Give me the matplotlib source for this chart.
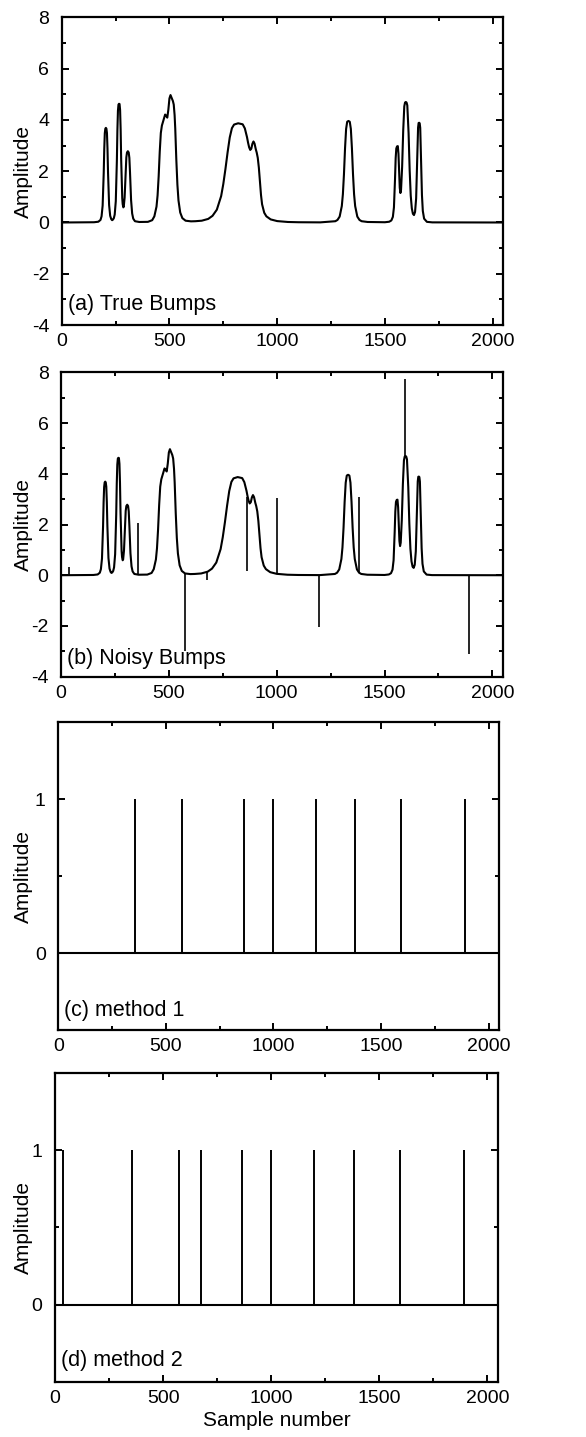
import matplotlib
matplotlib.use("Agg")
import matplotlib.pyplot as plt
from matplotlib.ticker import MultipleLocator

# Bumps signal, sample number vs amplitude
true_x = [0, 100, 150, 170, 180, 185, 190, 195, 197.5, 200, 202.5, 205, 207.5, 210, 212.5,
          215, 220, 225, 230, 234, 238, 242, 246, 251, 256, 258.5, 261, 263.5, 266, 268.5,
          271, 273.5, 276, 281, 283, 286, 288, 292, 297, 300, 303, 307, 311, 314, 317,
          322, 327, 332, 340, 360, 400, 420, 430, 440, 445, 450, 455, 460, 465, 471,
          476, 480, 485, 490, 495, 500, 505, 508, 512, 516, 520, 524, 527, 532, 537,
          542, 550, 560, 575, 600, 620, 650, 680, 700, 720, 740, 750, 760, 770, 780,
          790, 800, 819, 840, 850, 860, 865, 870, 875, 880, 885, 890, 895, 901, 905,
          910, 915, 920, 925, 930, 940, 950, 970, 1000, 1050, 1100, 1200, 1270, 1280, 1290,
          1300, 1305, 1310, 1315, 1320, 1325, 1331, 1337, 1342, 1347, 1352, 1357, 1362, 1372, 1382,
          1392, 1420, 1500, 1520, 1530, 1537, 1542, 1547, 1550, 1553, 1556.5, 1560, 1563, 1566, 1569,
          1572, 1575, 1580, 1585, 1590, 1593.5, 1597, 1600.5, 1604, 1610, 1615, 1620, 1625, 1630, 1635,
          1640, 1645, 1650, 1654, 1656.5, 1659, 1661.5, 1664, 1668, 1672, 1676, 1682, 1695, 1720, 2048]
true_y = [0.0, 0.005, 0.01, 0.03, 0.10, 0.24, 0.66, 1.93, 2.87, 3.48, 3.66, 3.69, 3.66, 3.49, 2.88,
          1.95, 0.68, 0.26, 0.13, 0.09, 0.115, 0.17, 0.31, 0.83, 2.40, 3.60, 4.36, 4.60, 4.63, 4.62,
          4.39, 3.64, 2.46, 0.95, 0.72, 0.59, 0.62, 0.97, 1.98, 2.54, 2.73, 2.78, 2.73, 2.52, 1.96,
          0.87, 0.35, 0.15, 0.05, 0.02, 0.025, 0.09, 0.24, 0.62, 1.06, 1.80, 2.76, 3.49, 3.78, 3.95,
          4.10, 4.21, 4.16, 4.09, 4.40, 4.84, 4.97, 4.91, 4.82, 4.74, 4.60, 4.19, 3.66, 2.44, 1.47,
          0.86, 0.39, 0.17, 0.07, 0.045, 0.05, 0.07, 0.14, 0.26, 0.50, 1.03, 1.50, 2.09, 2.74, 3.32,
          3.68, 3.82, 3.87, 3.83, 3.67, 3.33, 3.11, 2.93, 2.83, 2.88, 3.07, 3.16, 3.08, 2.85, 2.73,
          2.52, 2.14, 1.58, 1.07, 0.71, 0.38, 0.24, 0.12, 0.055, 0.02, 0.01, 0.005, 0.05, 0.10, 0.23,
          0.64, 1.10, 1.88, 2.89, 3.65, 3.93, 3.96, 3.93, 3.65, 2.89, 1.88, 1.10, 0.64, 0.23, 0.10,
          0.05, 0.02, 0.01, 0.03, 0.08, 0.22, 0.59, 1.69, 2.51, 2.89, 2.97, 2.98, 2.68, 1.97, 1.35,
          1.15, 1.28, 2.17, 3.58, 4.53, 4.68, 4.70, 4.68, 4.57, 3.48, 2.03, 1.04, 0.55, 0.34, 0.29,
          0.41, 0.94, 2.50, 3.70, 3.88, 3.89, 3.87, 3.69, 2.41, 1.07, 0.45, 0.15, 0.025, 0.005, 0.0]

# impulsive noise added in panel (b): position, curve level, spike tip
spike_pos = [35, 356, 575, 677, 864, 1000, 1197, 1381, 1594, 1890]
spike_base = [0.0, 0.02, 0.07, 0.12, 3.1, 0.055, 0.005, 0.1, 4.65, 0.0]
spike_tip = [0.33, 2.05, -3.0, -0.2, 0.15, 3.03, -2.06, 3.07, 7.74, -3.1]

# detected outlier positions
method1_pos = [356, 575, 864, 1000, 1197, 1381, 1594, 1890]
method2_pos = [35, 356, 575, 677, 864, 1000, 1197, 1381, 1594, 1890]
n_samples = 2048

plt.rcParams["font.family"] = ["Liberation Sans", "DejaVu Sans"]
plt.rcParams["axes.unicode_minus"] = False

fig = plt.figure(figsize=(5.86, 14.37), dpi=100)

# [left, bottom, width, height], label x in axes coords, panel text y
panels = [
    ([0.1053, 0.7738, 0.7530, 0.2141], -0.065, 0.068, "(a) True Bumps"),
    ([0.1041, 0.5291, 0.7538, 0.2118], -0.063, 0.061, "(b) Noisy Bumps"),
    ([0.0995, 0.2832, 0.7520, 0.2141], -0.057, 0.065, "(c) method 1"),
    ([0.0939, 0.0385, 0.7555, 0.2146], -0.050, 0.070, "(d) method 2"),
]

axes = []
for rect, lab_x, txt_y, txt in panels:
    ax = fig.add_axes(rect)
    ax.set_xlim(0, n_samples)
    ax.xaxis.set_major_locator(MultipleLocator(500))
    ax.xaxis.set_minor_locator(MultipleLocator(250))
    ax.tick_params(which="both", direction="in", top=True, right=True, width=1.4,
                   labelsize=14, colors="black")
    ax.tick_params(which="major", length=5)
    ax.tick_params(which="minor", length=3)
    ax.tick_params(axis="y", pad=9)
    ax.tick_params(axis="x", pad=6)
    for sp in ax.spines.values():
        sp.set_linewidth(1.6)
    ax.set_ylabel("Amplitude", fontsize=15)
    ax.yaxis.set_label_coords(lab_x, 0.5)
    ax.text(0.014, txt_y, txt, transform=ax.transAxes, fontsize=15.5,
            va="center", ha="left")
    axes.append(ax)

ax_a, ax_b, ax_c, ax_d = axes

for ax in (ax_a, ax_b):
    ax.set_ylim(-4, 8)
    ax.yaxis.set_major_locator(MultipleLocator(2))
    ax.yaxis.set_minor_locator(MultipleLocator(1))
    ax.plot(true_x, true_y, color="black", lw=1.5)

ax_b.vlines(spike_pos, spike_base, spike_tip, color="black", lw=1.2)

for ax, pos in ((ax_c, method1_pos), (ax_d, method2_pos)):
    ax.set_ylim(-0.5, 1.5)
    ax.yaxis.set_major_locator(MultipleLocator(1))
    ax.yaxis.set_minor_locator(MultipleLocator(0.5))
    ax.plot([0, n_samples], [0, 0], color="black", lw=1.5)
    ax.vlines(pos, 0, 1, color="black", lw=1.4)

ax_d.set_xlabel("Sample number", fontsize=15, labelpad=3)

fig.savefig("out.png", dpi=100)
